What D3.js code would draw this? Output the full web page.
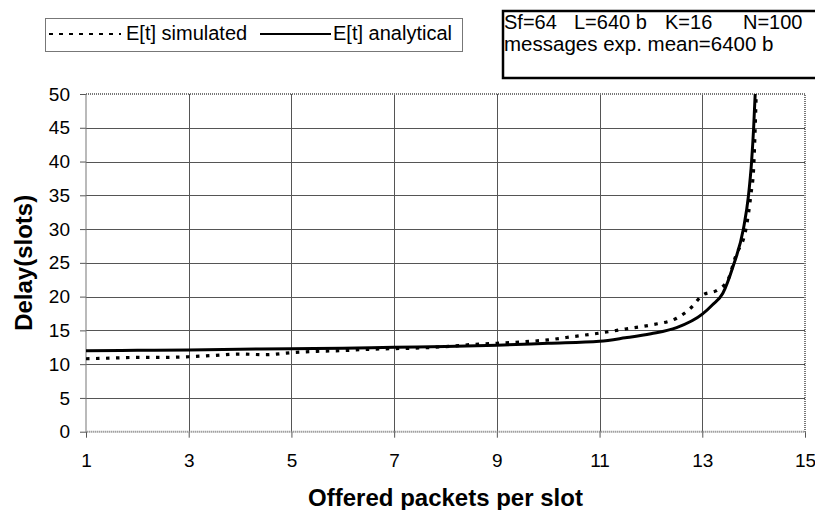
<!DOCTYPE html>
<html><head><meta charset="utf-8">
<script src="https://cdn.jsdelivr.net/npm/d3@7/dist/d3.min.js"></script>
<style>body{margin:0;background:#fff}svg{display:block}text{font-family:"Liberation Sans",Arial,sans-serif;fill:#000}</style>
</head><body>
<svg id="c" width="815" height="510"></svg>
<script>
// ---- data ----
const simX = [1,1.5,2,2.5,3,3.5,4,4.5,5,5.5,6,6.5,7,7.5,8,8.5,9,9.5,10,10.5,11,11.5,12,12.5,12.8,13,13.3,13.5,13.65,13.85,13.95,14.0,14.05];
const simY = [10.8,10.9,11.0,11.0,11.1,11.3,11.5,11.4,11.7,11.9,12.0,12.2,12.3,12.4,12.6,12.9,13.1,13.3,13.6,14.1,14.6,15.2,15.8,16.8,18.5,20.2,21.0,22.5,26.0,30.0,35.3,39.0,50.0];
const anaX = [1,2,3,4,5,6,7,8,9,10,11,11.5,12,12.5,13,13.2,13.4,13.6,13.8,13.9,13.96,14.0,14.03];
const anaY = [12.0,12.05,12.1,12.2,12.3,12.35,12.5,12.6,12.8,13.1,13.4,13.9,14.5,15.4,17.4,18.8,20.5,24.5,30.0,35.0,40.0,45.0,50.0];
const xTicks = [1,3,5,7,9,11,13,15];
const yTicks = [0,5,10,15,20,25,30,35,40,45,50];
const seriesNames = ["E[t] simulated","E[t] analytical"];
const infoLine1 = ["Sf=64","L=640 b","K=16","N=100"];
const infoLine2 = "messages exp. mean=6400 b";
const xTitle = "Offered packets per slot";
const yTitle = "Delay(slots)";

const svg = d3.select("#c");
const L=86, R=805, T=94, B=431.7;
const x = d3.scaleLinear().domain([1,15]).range([L,R]);
const y = d3.scaleLinear().domain([0,50]).range([B,T]);

svg.append("defs").append("clipPath").attr("id","clip")
  .append("rect").attr("x",L).attr("y",T-1).attr("width",R-L).attr("height",B-T+2);

// grid
const grid = svg.append("g");
grid.selectAll("line.h").data(yTicks.filter(d=>d>0&&d<50)).join("line")
  .attr("x1",L).attr("x2",R).attr("y1",d=>Math.round(y(d))+0.5).attr("y2",d=>Math.round(y(d))+0.5)
  .attr("stroke","#555").attr("stroke-width",1);
grid.selectAll("line.v").data(xTicks.filter(d=>d>1&&d<15)).join("line")
  .attr("y1",T).attr("y2",B).attr("x1",d=>Math.round(x(d))+0.5).attr("x2",d=>Math.round(x(d))+0.5)
  .attr("stroke","#555").attr("stroke-width",1);

// axes
const xAxis = svg.append("g").attr("transform",`translate(0,${B})`)
  .call(d3.axisBottom(x).tickValues(xTicks).tickSize(6).tickPadding(16).tickFormat(d3.format("d")));
const yAxis = svg.append("g").attr("transform",`translate(${L},0)`)
  .call(d3.axisLeft(y).tickValues(yTicks).tickSize(6).tickPadding(10).tickFormat(d3.format("d")));
[xAxis,yAxis].forEach(a=>{
  a.select(".domain").remove();
  a.selectAll(".tick line").attr("stroke","#555");
  a.selectAll(".tick text").style("font-size","19px").attr("fill","#000");
});

// plot border
svg.append("rect").attr("x",L).attr("y",T).attr("width",R-L).attr("height",B-T)
  .attr("fill","none").attr("stroke","#777").attr("stroke-width",2).attr("stroke-dasharray","1,1");

// lines
const line = d3.line().x(d=>x(d[0])).y(d=>y(d[1])).curve(d3.curveMonotoneX);
const g = svg.append("g").attr("clip-path","url(#clip)");
g.append("path").datum(anaX.map((v,i)=>[v,anaY[i]])).attr("d",line)
  .attr("fill","none").attr("stroke","#000").attr("stroke-width",3);
g.append("path").datum(simX.map((v,i)=>[v,simY[i]])).attr("d",line)
  .attr("fill","none").attr("stroke","#000").attr("stroke-width",3.2).attr("stroke-dasharray","3.5,6.5");

// axis titles
svg.append("text").attr("x",(L+R)/2).attr("y",506).attr("text-anchor","middle")
  .style("font-size","24px").style("font-weight","bold").text(xTitle);
svg.append("text").attr("transform",`translate(32,${(T+B)/2}) rotate(-90)`).attr("text-anchor","middle")
  .style("font-size","24px").style("font-weight","bold").text(yTitle);

// legend
const lg = svg.append("g");
lg.append("rect").attr("x",45.5).attr("y",18.5).attr("width",417).attr("height",33)
  .attr("fill","#fff").attr("stroke","#777").attr("stroke-width",1);
lg.append("line").attr("x1",49).attr("x2",121).attr("y1",34).attr("y2",34)
  .attr("stroke","#000").attr("stroke-width",2).attr("stroke-dasharray","4,6");
lg.append("text").attr("x",126).attr("y",40).style("font-size","20px").text(seriesNames[0]);
lg.append("line").attr("x1",260).attr("x2",331).attr("y1",34).attr("y2",34)
  .attr("stroke","#000").attr("stroke-width",2);
lg.append("text").attr("x",333).attr("y",40).style("font-size","20px").text(seriesNames[1]);

// info box
const ib = svg.append("g");
ib.append("rect").attr("x",503).attr("y",11).attr("width",330).attr("height",67)
  .attr("fill","#fff").attr("stroke","#000").attr("stroke-width",2.5);
const infoX = [504,574,665,743];
ib.selectAll("text.l1").data(infoLine1).join("text")
  .attr("x",(d,i)=>infoX[i]).attr("y",28.5).style("font-size","20px").text(d=>d);
ib.append("text").attr("x",504).attr("y",51).style("font-size","20.5px").text(infoLine2);
</script>
</body></html>
